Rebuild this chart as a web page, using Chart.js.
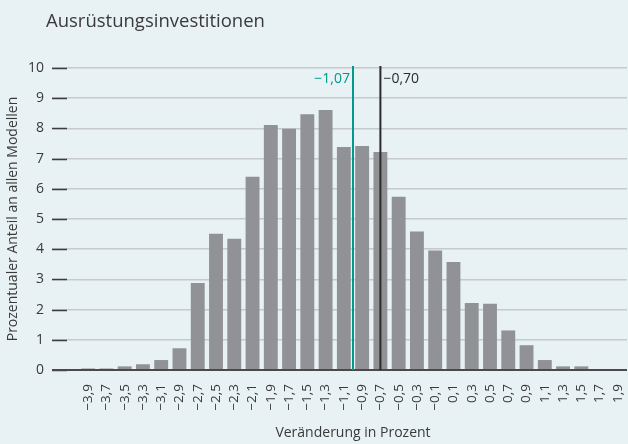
<!DOCTYPE html>
<html>
<head>
<meta charset="utf-8">
<script src="https://cdn.jsdelivr.net/npm/chart.js@4/dist/chart.umd.min.js"></script>
<style>
  html, body { margin: 0; padding: 0; background: #e8f1f3; }
  #wrap { width: 628px; height: 444px; position: relative; }
</style>
</head>
<body>
<div id="wrap"><canvas id="c" width="628" height="444"></canvas></div>
<script>
// ---- Data ----
const chartTitle = 'Ausrüstungsinvestitionen';
const xAxisTitle = 'Veränderung in Prozent';
const yAxisTitle = 'Prozentualer Anteil an allen Modellen';
const categories = ['−3,9','−3,7','−3,5','−3,3','−3,1','−2,9','−2,7','−2,5','−2,3','−2,1',
                    '−1,9','−1,7','−1,5','−1,3','−1,1','−0,9','−0,7','−0,5','−0,3','−0,1',
                    '0,1','0,3','0,5','0,7','0,9','1,1','1,3','1,5','1,7','1,9'];
const shares = [0.05, 0.05, 0.12, 0.19, 0.33, 0.72, 2.88, 4.51, 4.35, 6.40,
                8.11, 7.99, 8.47, 8.61, 7.38, 7.42, 7.22, 5.74, 4.59, 3.96,
                3.58, 2.22, 2.19, 1.31, 0.82, 0.33, 0.12, 0.12, 0, 0];
const yTicks = [0,1,2,3,4,5,6,7,8,9,10];
// vertical reference lines: label text and position on the x axis as drawn
const markerLabels = ['−1,07', '−0,70'];
const markerAxisValues = [-1.0, -0.7];
const markerColors = ['#00998c', '#2b2b2b'];

// ---- Styles ----
const FONT = "'Open Sans', 'DejaVu Sans', sans-serif";
const TEXT = '#3a3a3a';
const GRID = '#c6cacc';
const BAR = '#919296';

const catNums = categories.map(s => parseFloat(s.replace('−','-').replace(',','.')));
function indexFor(v) {
  for (let i = 0; i < catNums.length - 1; i++) {
    if (v >= catNums[i] && v <= catNums[i+1]) {
      return i + (v - catNums[i]) / (catNums[i+1] - catNums[i]);
    }
  }
  return 0;
}

const decor = {
  id: 'decor',
  beforeDraw(chart) {
    const ctx = chart.ctx;
    ctx.save();
    ctx.fillStyle = '#e8f1f3';
    ctx.fillRect(0, 0, chart.width, chart.height);
    ctx.fillStyle = TEXT;
    ctx.font = '18.5px ' + FONT;
    ctx.textBaseline = 'alphabetic';
    ctx.textAlign = 'left';
    ctx.fillText(chartTitle, 46, 27);
    ctx.restore();
  },
  afterDatasetsDraw(chart) {
    const ctx = chart.ctx;
    const x = chart.scales.x, y = chart.scales.y;
    const ca = chart.chartArea;
    ctx.save();
    ctx.strokeStyle = '#3c3c3c';
    ctx.lineWidth = 1.5;
    yTicks.forEach(t => {
      const py = Math.round(y.getPixelForValue(t)) + 0.5;
      ctx.beginPath();
      ctx.moveTo(ca.left - 27, py);
      ctx.lineTo(ca.left - 12, py);
      ctx.stroke();
    });
    const p0 = y.getPixelForValue(0);
    ctx.strokeStyle = '#4a4a4a';
    ctx.lineWidth = 2;
    ctx.beginPath();
    ctx.moveTo(ca.left - 27, p0);
    ctx.lineTo(ca.right, p0);
    ctx.stroke();
    markerAxisValues.forEach((v, i) => {
      const px = x.getPixelForValue(indexFor(v));
      ctx.strokeStyle = markerColors[i];
      ctx.lineWidth = 2;
      ctx.beginPath();
      ctx.moveTo(px, y.getPixelForValue(10) - 2);
      ctx.lineTo(px, p0);
      ctx.stroke();
      ctx.fillStyle = markerColors[i];
      ctx.font = '14px ' + FONT;
      ctx.textBaseline = 'middle';
      if (i === 0) { ctx.textAlign = 'right'; ctx.fillText(markerLabels[i], px - 3, y.getPixelForValue(9.65)); }
      else { ctx.textAlign = 'left'; ctx.fillText(markerLabels[i], px + 3, y.getPixelForValue(9.65)); }
    });
    ctx.restore();
  }
};

new Chart(document.getElementById('c'), {
  type: 'bar',
  data: {
    labels: categories,
    datasets: [{
      data: shares,
      backgroundColor: BAR,
      borderWidth: 0,
      barPercentage: 0.76,
      categoryPercentage: 1.0
    }]
  },
  options: {
    responsive: false,
    animation: false,
    devicePixelRatio: 1,
    layout: { padding: { top: 68, right: 1, left: 0, bottom: 0 } },
    plugins: { legend: { display: false }, tooltip: { enabled: false }, title: { display: false } },
    scales: {
      x: {
        offset: true,
        grid: { display: false },
        border: { display: false },
        ticks: {
          color: TEXT, font: { family: FONT, size: 13.5 },
          minRotation: 90, maxRotation: 90, autoSkip: false, padding: 6
        },
        title: { display: true, text: xAxisTitle, color: TEXT, font: { family: FONT, size: 14 }, padding: { top: 0, bottom: 3 } },
        afterFit(s) { s.height = 74; s.paddingLeft = 0; s.paddingRight = 0; }
      },
      y: {
        min: 0, max: 10,
        afterBuildTicks(s) { s.ticks = yTicks.map(v => ({ value: v })); },
        grid: {
          color: GRID, lineWidth: 1.5,
          drawTicks: true, tickLength: 27, tickColor: GRID
        },
        border: { display: false },
        ticks: { color: TEXT, font: { family: FONT, size: 14 }, padding: 8 },
        title: { display: true, text: yAxisTitle, color: TEXT, font: { family: FONT, size: 14 }, padding: { top: 5, bottom: 0 } },
        afterFit(s) { s.width = 79; s.paddingTop = 0; s.paddingBottom = 0; }
      }
    }
  },
  plugins: [decor]
});
</script>
</body>
</html>
